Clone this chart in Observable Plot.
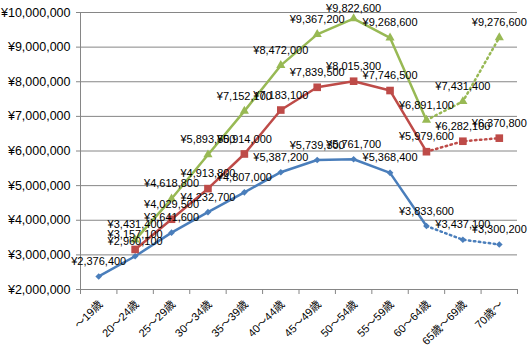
<!DOCTYPE html>
<html><head><meta charset="utf-8">
<script src="https://cdn.jsdelivr.net/npm/d3@7"></script>
<script src="https://cdn.jsdelivr.net/npm/@observablehq/plot@0.6"></script>
<style>
body{margin:0;background:#fff;}
svg{font-family:"Liberation Sans","Noto Sans CJK JP",sans-serif;}
</style></head><body><div id="chart"></div>
<script>
const categories = ["～19歳","20～24歳","25～29歳","30～34歳","35～39歳","40～44歳","45～49歳","50～54歳","55～59歳","60～64歳","65歳～69歳","70歳～"];
const blueValues  = [2376400,2960100,3641600,4232700,4807000,5387200,5739300,5761700,5368400,3833600,3437100,3300200];
const redValues   = [null,3157100,4029500,4913800,5914000,7183100,7839500,8015300,7746500,5979600,6282100,6370800];
const greenValues = [null,3431400,4618800,5893500,7152100,8472000,9367200,9822600,9268600,6891100,7431400,9276600];
const yTicks = [2000000,3000000,4000000,5000000,6000000,7000000,8000000,9000000,10000000];

const series = [
  {name:"blue", values:blueValues, color:"#4A7EBB", symbol:"diamond2", r:3},
  {name:"red", values:redValues, color:"#BE4B48", symbol:"square", r:4.3},
  {name:"green", values:greenValues, color:"#98B954", symbol:"triangle", r:3.4}
];
const rows = [];
series.forEach(s => s.values.forEach((v,i) => { if (v != null) rows.push({i, v, s: s.name}); }));
const yen = v => "¥" + d3.format(",")(v);
const centers = categories.map((c,i) => i);
const bounds = d3.range(-0.5, categories.length, 1);
const yMax = 10000000;

const marks = [
  Plot.gridY(yTicks, {stroke:"#868686", strokeOpacity:1, strokeWidth:1}),
  Plot.ruleX([-0.5], {stroke:"#868686"}),
  Plot.ruleY([2000000], {stroke:"#868686"}),
  Plot.axisY(yTicks, {tickFormat: yen, tickSize:4, tickPadding:6, fontSize:12.5, color:"#000", stroke:"#868686", label:null}),
  Plot.axisX(bounds, {tickFormat: () => "", tickSize:5, stroke:"#868686", label:null}),
  Plot.axisX(centers, {tickFormat: i => categories[i], tickSize:0, tickRotate:-45, tickPadding:13, fontSize:11, color:"#000", label:null, dx:2}),
];
series.forEach(s => {
  const solid = rows.filter(d => d.s === s.name && d.i <= 9);
  const dotted = rows.filter(d => d.s === s.name && d.i >= 9);
  marks.push(Plot.line(solid, {x:"i", y:"v", stroke:s.color, strokeWidth:2.5}));
  marks.push(Plot.line(dotted, {x:"i", y:"v", stroke:s.color, strokeWidth:2.5, strokeDasharray:"1.5,3.5", strokeLinecap:"round"}));
});
series.forEach(s => {
  const pts = rows.filter(d => d.s === s.name);
  marks.push(Plot.dot(pts, {x:"i", y:"v", symbol:()=>s.symbol, fill:s.color, r:s.r, stroke:null}));
});
series.forEach(s => {
  const pts = rows.filter(d => d.s === s.name);
  const near = pts.filter(d => d.v > 9700000);
  const rest = pts.filter(d => d.v <= 9700000);
  marks.push(Plot.text(rest, {x:"i", y:"v", text: d => yen(d.v), dy:-15, fontSize:11, fill:"#000"}));
  if (near.length) marks.push(Plot.text(near, {x:"i", y:"v", text: d => yen(d.v), dy:-10, fontSize:11, fill:"#000"}));
});

const chart = Plot.plot({
  width:530, height:355,
  marginLeft:80, marginRight:13, marginTop:12, marginBottom:66,
  x:{type:"linear", domain:[-0.5, 11.5]},
  y:{domain:[2000000,yMax]},
  symbol:{type:"identity"},
  marks
});
document.getElementById("chart").appendChild(chart);
</script></body></html>
